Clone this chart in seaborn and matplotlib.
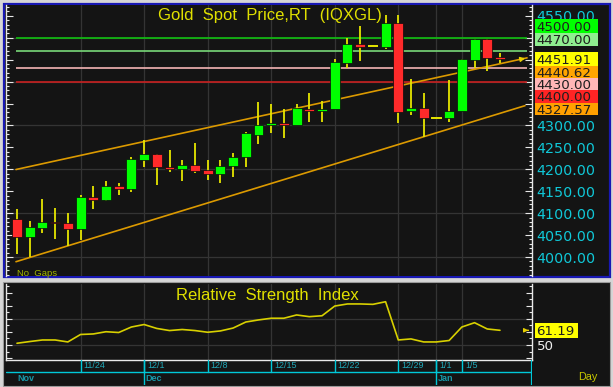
import numpy as np
import pandas as pd
import matplotlib
matplotlib.use("Agg")
import matplotlib.pyplot as plt
import seaborn as sns
from matplotlib.patches import Rectangle
from matplotlib.ticker import MultipleLocator, FuncFormatter

# ---------------- data ----------------
dates = pd.to_datetime([
    "2025-11-17", "2025-11-18", "2025-11-19", "2025-11-20", "2025-11-21",
    "2025-11-24", "2025-11-25", "2025-11-26", "2025-11-27", "2025-11-28",
    "2025-12-01", "2025-12-02", "2025-12-03", "2025-12-04", "2025-12-05",
    "2025-12-08", "2025-12-09", "2025-12-10", "2025-12-11", "2025-12-12",
    "2025-12-15", "2025-12-16", "2025-12-17", "2025-12-18", "2025-12-19",
    "2025-12-22", "2025-12-23", "2025-12-24", "2025-12-25", "2025-12-26",
    "2025-12-29", "2025-12-30", "2025-12-31", "2026-01-01", "2026-01-02",
    "2026-01-05", "2026-01-06", "2026-01-07", "2026-01-08"])
opens = [4086, 4045, 4067, 4079, 4078, 4063, 4136, 4129, 4163, 4156,
         4221, 4234, 4206, 4201, 4210, 4198, 4189, 4207, 4227, 4279,
         4300, 4306, 4301, 4338, 4332, 4337, 4442, 4486, 4481, 4478,
         4534, 4332, 4339, 4318, 4317, 4332, 4449, 4496, 4455.3]
highs = [4109, 4083, 4133, 4111, 4101, 4141, 4162, 4174, 4169, 4229,
         4267, 4236, 4244, 4221, 4261, 4221, 4221, 4238, 4286, 4354,
         4350, 4337, 4350, 4375, 4356, 4451, 4499, 4527, 4481, 4552,
         4552, 4406, 4373, 4318, 4404, 4451, 4496, 4496, 4466]
lows = [4007, 3999, 4054, 4040, 4025, 4039, 4109, 4128, 4141, 4149,
        4206, 4164, 4194, 4174, 4191, 4176, 4169, 4182, 4205, 4258,
        4283, 4272, 4301, 4308, 4308, 4337, 4430, 4447, 4481, 4474,
        4306, 4324, 4274, 4318, 4308, 4332, 4430, 4424, 4443]
closes = [4045, 4068, 4079, 4077, 4065, 4136, 4129, 4163, 4156, 4223,
          4234, 4205, 4201, 4210, 4197, 4189, 4208, 4229, 4282, 4301,
          4306, 4302, 4339, 4332, 4338, 4444, 4486, 4479, 4481, 4534,
          4331, 4339, 4317, 4318, 4334, 4451, 4496, 4454, 4451.91]
rsi = [51.3, 52.6, 53.8, 53.8, 52.3, 58.0, 58.4, 60.1, 59.5, 63.7,
       65.6, 62.6, 61.0, 61.8, 61.0, 59.7, 60.7, 62.9, 67.5, 69.1,
       70.4, 70.4, 72.9, 71.6, 72.3, 79.7, 81.3, 81.3, 81.0, 83.0,
       53.8, 54.6, 52.3, 52.3, 53.4, 63.7, 67.0, 62.2, 61.19]

level_values = [4500.00, 4470.00, 4430.00, 4400.00]
level_colors = ["#10c010", "#78d878", "#f4b4b4", "#c82020"]
channel_upper = [4200.0, 4440.62]   # value at first / last candle
channel_lower = [3990.0, 4327.57]

box_labels = ["4500.00", "4470.00", "4451.91", "4440.62", "4430.00", "4400.00", "4327.57"]
box_colors = ["#00ff00", "#90ee90", "#ffff00", "#ffa500", "#ffb6b6", "#ff2424", "#ffa000"]
box_rows = [(19.5, 32.5), (32.5, 46), (52, 65.5), (65.5, 78), (78, 90), (90, 102.5), (102.5, 115)]
hidden_ticks = [4350, 4400, 4450, 4500]   # price ticks covered by the boxes

week_labels = ["11/24", "12/1", "12/8", "12/15", "12/22", "12/29", "1/1", "1/5"]
month_labels = ["Nov", "Dec", "Jan"]

title = "Gold  Spot  Price,RT  (IQXGL)"
rsi_title = "Relative  Strength  Index"

# ---------------- style ----------------
sns.set_style("dark")
plt.rcParams["font.family"] = ["Liberation Sans", "DejaVu Sans"]

W, H = 613, 387
BG = "#141414"
fig = plt.figure(figsize=(W / 100, H / 100), dpi=100)
fig.patch.set_facecolor("#d6d6d6")


def fx(x):
    return x / W


def fy(y):
    return 1 - y / H


def add_axes_px(x0, y0, x1, y1):
    return fig.add_axes([fx(x0), fy(y1), fx(x1 - x0), (y1 - y0) / H])


# panel backgrounds
fig.add_artist(Rectangle((fx(3.5), fy(277)), fx(606), (277 - 3.5) / H,
                         transform=fig.transFigure, facecolor=BG,
                         edgecolor="#1818b4", lw=1.6, zorder=0))
fig.add_artist(Rectangle((fx(2.5), fy(385.5)), fx(607.5), (385.5 - 282) / H,
                         transform=fig.transFigure, facecolor=BG,
                         edgecolor="#9a9a9a", lw=0.8, zorder=0))

x = np.arange(len(dates))
xlim = (-0.865, 40.52)

# ---------------- main candle axes ----------------
ax = add_axes_px(6, 5, 532, 276)
ax.set_facecolor(BG)
ax.set_xlim(*xlim)
ax.set_ylim(3956.7, 4574.6)

week_idx = [i for i, d in enumerate(dates) if f"{d.month}/{d.day}" in week_labels]
for i in week_idx:
    ax.axvline(i, color="#343434", lw=0.9, zorder=0)
for v in np.arange(4000, 4600, 100):
    ax.axhline(v, color="#343434", lw=0.9, zorder=0)

for v, c in zip(level_values, level_colors):
    ax.hlines(v, -0.08, 40.13, color=c, lw=1.2, zorder=1)

n = len(dates) - 1
for (a, b), xe in [(channel_upper, 40.13), (channel_lower, 39.97)]:
    slope = (b - a) / n
    xs = np.array([-0.08, xe])
    ax.plot(xs, a + slope * xs, color="#dc9a00", lw=1.2, zorder=2)
su = (channel_upper[1] - channel_upper[0]) / n
ax.annotate("", xy=(40.2, channel_upper[0] + su * 40.2),
            xytext=(39.6, channel_upper[0] + su * 39.6),
            arrowprops=dict(arrowstyle="-|>", color="#e8d000", lw=1.0,
                            mutation_scale=7), zorder=3)

o = np.array(opens); c = np.array(closes)
hi = np.array(highs); lo = np.array(lows)
ax.vlines(x, lo, hi, color="#e6e600", lw=1.3, zorder=3)
up = c > o
dn = c < o
doji = c == o
ax.bar(x[up], (c - o)[up], bottom=o[up], width=0.78, color="#00ff00",
       edgecolor="#0a0a0a", lw=0.5, zorder=4)
ax.bar(x[dn], (o - c)[dn], bottom=c[dn], width=0.78, color="#ff2a2a",
       edgecolor="#0a0a0a", lw=0.5, zorder=4)
ax.hlines(c[doji], x[doji] - 0.4, x[doji] + 0.4, color="#e6e600", lw=1.4, zorder=4)

for s in ["top", "bottom"]:
    ax.spines[s].set_visible(False)
for s in ["left", "right"]:
    ax.spines[s].set_color("#e8e8e8")
    ax.spines[s].set_linewidth(1.0)
ax.yaxis.set_major_locator(MultipleLocator(50))
ax.yaxis.set_minor_locator(MultipleLocator(10))
ax.yaxis.set_major_formatter(FuncFormatter(
    lambda v, p: "" if round(v) in hidden_ticks else f"{v:.2f}"))
ax.tick_params(axis="y", which="both", direction="in", left=True, right=True,
               labelleft=False, labelright=True, color="#e8e8e8", width=0.8,
               labelcolor="#10c8d8", labelsize=10.3, pad=3)
ax.tick_params(axis="y", which="major", length=5)
ax.tick_params(axis="y", which="minor", length=2.5)
for t in ax.get_yticklabels():
    t.set_fontfamily("DejaVu Sans")
ax.tick_params(axis="x", bottom=False, labelbottom=False)
ax.grid(False)

fig.text(fx(270), fy(20), title, ha="center", va="baseline",
         fontsize=12, color="#e0e000")
fig.text(fx(17), fy(276), "No  Gaps", ha="left", va="baseline",
         fontsize=6.8, color="#a0b400")

for (y0, y1), lab, col in zip(box_rows, box_labels, box_colors):
    fig.add_artist(Rectangle((fx(535), fy(y1)), fx(63), (y1 - y0) / H,
                             transform=fig.transFigure, facecolor=col,
                             edgecolor="none", zorder=5))
    fig.text(fx(536), fy((y0 + y1) / 2), lab, ha="left", va="center_baseline",
             fontsize=9.6, color="#1e1e1e", family="DejaVu Sans", zorder=6)

# ---------------- RSI axes ----------------
rax = add_axes_px(6, 284, 532, 360)
rax.set_facecolor(BG)
rax.set_xlim(*xlim)
rax.set_ylim(38.52, 96.53)
for i in week_idx:
    rax.axvline(i, color="#343434", lw=0.9, zorder=0)
for v in [50, 70]:
    rax.axhline(v, color="#343434", lw=0.9, zorder=0)
sns.lineplot(x=x, y=rsi, ax=rax, color="#d8d000", lw=1.2, zorder=3)
rax.annotate("", xy=(40.45, rsi[-1]), xytext=(40.0, rsi[-1]),
             arrowprops=dict(arrowstyle="-|>", color="#e8d000", lw=0.9,
                             mutation_scale=6))
rax.spines["top"].set_visible(False)
for s in ["left", "right", "bottom"]:
    rax.spines[s].set_color("#e8e8e8")
    rax.spines[s].set_linewidth(1.0)
rax.yaxis.set_major_locator(MultipleLocator(10))
rax.yaxis.set_minor_locator(MultipleLocator(5))
rax.tick_params(axis="y", which="both", direction="in", left=True, right=True,
                labelleft=False, labelright=False, color="#e8e8e8", width=0.8)
rax.tick_params(axis="y", which="major", length=4.5)
rax.tick_params(axis="y", which="minor", length=2.5)
rax.tick_params(axis="x", bottom=False, labelbottom=False)
rax.set_xlabel(""); rax.set_ylabel("")
rax.grid(False)

fig.text(fx(267.5), fy(300), rsi_title, ha="center", va="baseline",
         fontsize=12, color="#e0e000")
fig.add_artist(Rectangle((fx(535), fy(337.5)), fx(43), 15 / H,
                         transform=fig.transFigure, facecolor="#ffff00",
                         edgecolor="none", zorder=5))
fig.text(fx(536.5), fy(330), f"{rsi[-1]:.2f}", ha="left", va="center_baseline",
         fontsize=9.6, color="#1e1e1e", family="DejaVu Sans", zorder=6)
fig.text(fx(536.5), fy(345.5), "50", ha="left", va="center_baseline",
         fontsize=9.6, color="#f0f0f0", family="DejaVu Sans", zorder=6)
fig.text(fx(578), fy(380), "Day", ha="left", va="baseline",
         fontsize=7.8, color="#c8c800")

# ---------------- date axis ----------------
dax = add_axes_px(6, 360, 532, 385)
dax.set_facecolor(BG)
dax.set_xlim(*xlim)
dax.set_ylim(1, 0)
dax.axis("off")
cyan = "#00c8d8"
mid = 12 / 25
dax.axhline(mid, color=cyan, lw=1.0)
month_idx = [0] + [i for i in range(1, len(dates)) if dates[i].month != dates[i - 1].month]
for i in week_idx:
    dax.axvline(i, ymin=1 - mid, ymax=1, color=cyan, lw=1.0)
for i in month_idx[1:]:
    dax.axvline(i, ymin=0, ymax=1, color=cyan, lw=1.0)
dax.axvline(xlim[1], color=cyan, lw=1.6)
for i in week_idx:
    d = dates[i]
    dax.annotate(f"{d.month}/{d.day}", xy=(i, 0.5 * mid), xytext=(2.2, 0),
                 textcoords="offset points", ha="left", va="center",
                 fontsize=6.5, color="#20a8b8")
for i, lab in zip(month_idx, month_labels):
    dax.annotate(lab, xy=(i, (1 + mid) / 2), xytext=(0.8 if i else 0, 0),
                 textcoords="offset points", ha="left", va="center",
                 fontsize=6.5, color="#1898a8", fontweight="bold")

fig.savefig("out.png", dpi=100, facecolor=fig.get_facecolor())
